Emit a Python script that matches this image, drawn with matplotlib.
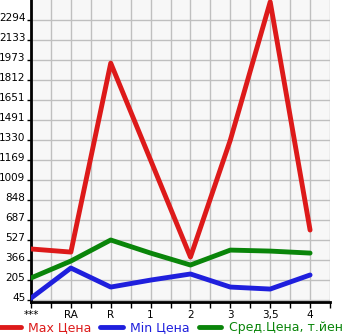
import matplotlib.pyplot as plt
from matplotlib.transforms import ScaledTranslation

cats = ['***', 'RA', 'R', '1', '2', '3', '3,5', '4']
max_price = [455, 430, 1948, 1169, 390, 1330, 2440, 607]
min_price = [60, 302, 149, 205, 254, 149, 133, 246]
avg_price = [222, 358, 527, 422, 326, 446, 438, 422]
yticks = [45, 205, 366, 527, 687, 848, 1009, 1169, 1330, 1491, 1651, 1812, 1973, 2133, 2294]

fig = plt.figure(figsize=(3.45, 3.35), dpi=100)
ax = fig.add_axes([31/345, 1 - 302/335, 299/345, 302/335])
ax.set_facecolor('#f7f7f7')

x = list(range(len(cats)))
ax.plot(x, max_price, color='#dd1a1a', lw=3.5, label='Max Цена', solid_capstyle='round', zorder=3)
ax.plot(x, min_price, color='#1f1fdd', lw=3.5, label='Min Цена', solid_capstyle='round', zorder=3)
ax.plot(x, avg_price, color='#0a850a', lw=3.5, label='Сред.Цена, т.йен', solid_capstyle='round', zorder=3)

ax.set_xlim(0, 7.5)
ax.set_ylim(29, 2455)
ax.set_yticks(yticks)
ax.set_yticklabels([str(v) for v in yticks], fontsize=7.5)
ax.set_xticks(x)
ax.set_xticklabels(cats, fontsize=7.5)
ax.set_xticks([i + 0.5 for i in x], minor=True)
ax.grid(True, which='major', color='#bfbfbf', lw=1)
ax.grid(True, which='minor', axis='x', color='#bfbfbf', lw=1)
ax.set_axisbelow(True)
ax.tick_params(axis='y', which='major', length=3, width=1, pad=1)
ax.tick_params(axis='x', which='both', length=4, width=1, pad=2)

# y labels sit a little above their ticks
off = ScaledTranslation(0, 3/100, fig.dpi_scale_trans)
for lab in ax.get_yticklabels():
    lab.set_transform(lab.get_transform() + off)

for s in ['top', 'right']:
    ax.spines[s].set_visible(False)
ax.spines['left'].set_linewidth(2)
ax.spines['bottom'].set_linewidth(2)

leg = fig.legend(loc='center left', bbox_to_anchor=(-0.005, 1 - 328/335), ncol=3, frameon=False,
                 fontsize=9, handlelength=1.8, columnspacing=0.7, handletextpad=0.6,
                 borderaxespad=0, borderpad=0)
for t, l in zip(leg.get_texts(), leg.get_lines()):
    t.set_color(l.get_color())

fig.savefig('out.png', dpi=100)
